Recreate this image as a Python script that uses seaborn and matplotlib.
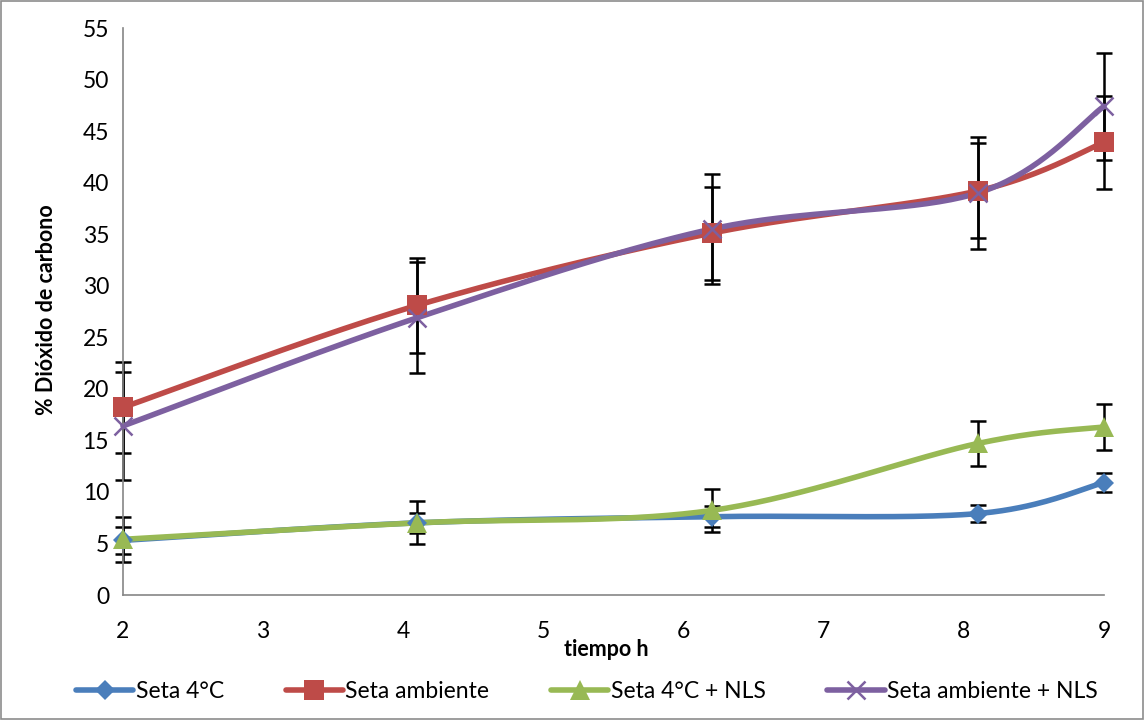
import numpy as np
import pandas as pd
import matplotlib
matplotlib.use("Agg")
import matplotlib.pyplot as plt
from matplotlib.lines import Line2D
import seaborn as sns

# Measurement times (h) and CO2 percentages with their standard deviations
tiempo = [2, 4.1, 6.2, 8.1, 9]
series_names = ["Seta 4°C", "Seta ambiente", "Seta 4°C + NLS", "Seta ambiente + NLS"]
seta_4c = [5.3, 7.0, 7.6, 7.9, 10.9]
seta_4c_err = [1.3, 0.95, 1.0, 0.85, 0.9]
seta_amb = [18.2, 28.1, 35.1, 39.2, 43.9]
seta_amb_err = [4.4, 4.6, 4.5, 4.6, 4.5]
seta_4c_nls = [5.4, 7.0, 8.2, 14.7, 16.3]
seta_4c_nls_err = [2.15, 2.1, 2.1, 2.2, 2.2]
seta_amb_nls = [16.4, 26.9, 35.5, 39.0, 47.4]
seta_amb_nls_err = [5.2, 5.4, 5.3, 5.4, 5.2]
y_ticks = list(range(0, 56, 5))
x_ticks = list(range(2, 10))

values = [seta_4c, seta_amb, seta_4c_nls, seta_amb_nls]
errors = [seta_4c_err, seta_amb_err, seta_4c_nls_err, seta_amb_nls_err]
colors = ["#4A7EBB", "#BE4B48", "#98B954", "#7D60A0"]
markers = ["D", "s", "^", "x"]
msizes = [10, 14, 14, 13]


def smooth(xs, ys, n=40):
    """Cubic Bezier smoothing through every point (Catmull-Rom style)."""
    xs = np.asarray(xs, float)
    ys = np.asarray(ys, float)
    px = np.concatenate([[xs[0]], xs, [xs[-1]]])
    py = np.concatenate([[ys[0]], ys, [ys[-1]]])
    out_x, out_y = [], []
    t = np.linspace(0, 1, n)
    for i in range(1, len(xs)):
        p0 = np.array([px[i - 1], py[i - 1]])
        p1 = np.array([px[i], py[i]])
        p2 = np.array([px[i + 1], py[i + 1]])
        p3 = np.array([px[i + 2], py[i + 2]])
        c1 = p1 + (p2 - p0) / 6
        c2 = p2 - (p3 - p1) / 6
        b = ((1 - t) ** 3)[:, None] * p1 + (3 * (1 - t) ** 2 * t)[:, None] * c1 \
            + (3 * (1 - t) * t ** 2)[:, None] * c2 + (t ** 3)[:, None] * p2
        if i > 1:
            b = b[1:]
        out_x.extend(b[:, 0])
        out_y.extend(b[:, 1])
    return np.array(out_x), np.array(out_y)


sns.set_theme(style="white")
plt.rcParams["font.family"] = ["Lato", "DejaVu Sans"]
plt.rcParams["text.color"] = "black"

fig = plt.figure(figsize=(11.44, 7.20), dpi=100)
ax = fig.add_axes([0.1075, 0.1736, 0.8575, 0.7875])

# error bars first, under the curves and markers
for vals, errs in zip(values, errors):
    ax.errorbar(tiempo, vals, yerr=errs, fmt="none", ecolor="black",
                elinewidth=1.8, capsize=6, capthick=1.8, zorder=1, clip_on=False)

for name, vals, col, mk, ms in zip(series_names, values, colors, markers, msizes):
    sx, sy = smooth(tiempo, vals)
    curve = pd.DataFrame({"x": sx, "y": sy})
    sns.lineplot(data=curve, x="x", y="y", ax=ax, color=col, linewidth=4,
                 sort=False, estimator=None, zorder=2, clip_on=False)
    pts = pd.DataFrame({"x": tiempo, "y": vals})
    if mk == "x":
        ax.plot(pts["x"], pts["y"], linestyle="none", marker="x", markersize=ms,
                markeredgewidth=1.8, color=col, zorder=3, clip_on=False)
    else:
        ax.plot(pts["x"], pts["y"], linestyle="none", marker=mk, markersize=ms,
                markeredgewidth=0, color=col, zorder=3, clip_on=False)

ax.set_xlim(2, 9)
ax.set_ylim(0, 55)
ax.set_xticks(x_ticks)
ax.set_yticks(y_ticks)
ax.set_xlabel("")
ax.set_ylabel("")
ax.tick_params(axis="x", labelsize=16.5, pad=19, length=0, labelcolor="black")
ax.tick_params(axis="y", labelsize=16.5, pad=10, length=0, labelcolor="black")
for side in ["top", "right"]:
    ax.spines[side].set_visible(False)
for side in ["left", "bottom"]:
    ax.spines[side].set_color("#868686")
    ax.spines[side].set_linewidth(1.2)

fig.text(606 / 1144, 1 - 650 / 720, "tiempo h", ha="center", va="center",
         fontsize=15.5, fontweight="bold", color="black")
fig.text(47 / 1144, 1 - 310 / 720, "% Dióxido de carbono", ha="center", va="center",
         rotation=90, fontsize=15.5, fontweight="bold", color="black")

handles = []
for name, col, mk, ms in zip(series_names, colors, markers, msizes):
    if mk == "x":
        h = Line2D([0], [0], color=col, lw=4, marker="x", markersize=ms,
                   markeredgewidth=1.8)
    else:
        h = Line2D([0], [0], color=col, lw=4, marker=mk, markersize=ms,
                   markeredgewidth=0)
    handles.append(h)
leg = fig.legend(handles, series_names, loc="center", bbox_to_anchor=(0.513, 0.039),
                 ncol=4, frameon=False, fontsize=16.5, handlelength=2.5,
                 handletextpad=0.1, columnspacing=2.7)
for txt in leg.get_texts():
    txt.set_color("black")

# chart border
fig.patches.append(plt.Rectangle((0.001, 0.001), 0.998, 0.998, transform=fig.transFigure,
                                 fill=False, edgecolor="#8C8C8C", linewidth=1.2))

fig.savefig("out.png", dpi=100)
